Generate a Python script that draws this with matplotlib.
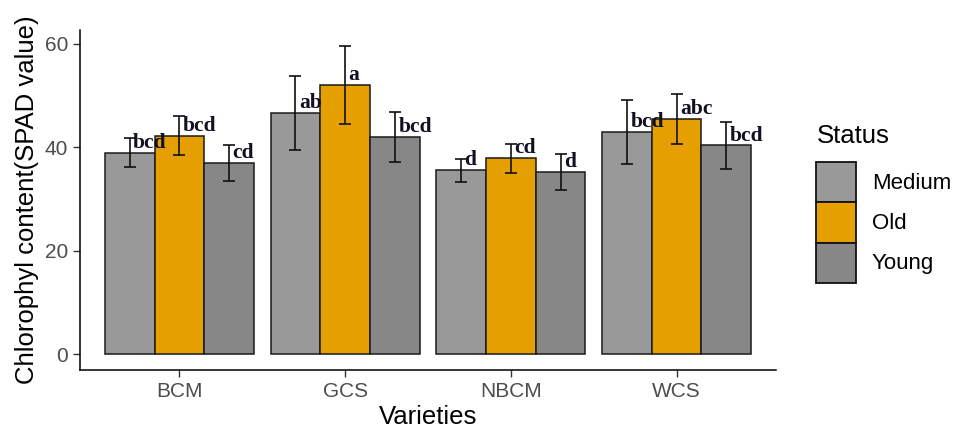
import matplotlib
matplotlib.use("Agg")
import matplotlib.pyplot as plt
import numpy as np
from matplotlib.patches import Patch

varieties = ["BCM", "GCS", "NBCM", "WCS"]
statuses = ["Medium", "Old", "Young"]
colors = ["#999999", "#E69F00", "#878787"]

medium_mean = [39.0, 46.7, 35.6, 43.0]
old_mean = [42.3, 52.1, 37.9, 45.5]
young_mean = [37.0, 42.0, 35.3, 40.4]

medium_sd = [2.8, 7.2, 2.2, 6.2]
old_sd = [3.8, 7.6, 2.85, 4.85]
young_sd = [3.4, 4.9, 3.5, 4.5]

medium_lab = ["bcd", "ab", "d", "bcd"]
old_lab = ["bcd", "a", "cd", "abc"]
young_lab = ["cd", "bcd", "d", "bcd"]

means = [medium_mean, old_mean, young_mean]
sds = [medium_sd, old_sd, young_sd]
labs = [medium_lab, old_lab, young_lab]

plt.rcParams['font.family'] = ['Liberation Sans', 'DejaVu Sans']

fig = plt.figure(figsize=(9.55, 4.30), dpi=100)
ax = fig.add_axes([80/955, 1-370/430, (776-80)/955, (370-30)/430])

x = np.arange(1, len(varieties)+1)
w = 0.3
offs = [-w, 0, w]
for i, st in enumerate(statuses):
    xs = x + offs[i]
    ax.bar(xs, means[i], width=w, color=colors[i], edgecolor="#1a1a1a",
           linewidth=1.1, zorder=2)
    ax.errorbar(xs, means[i], yerr=sds[i], fmt='none', ecolor="#111111",
                elinewidth=1.2, capsize=4.2, capthick=1.2, zorder=3)
    for xx, m, lab in zip(xs, means[i], labs[i]):
        ax.annotate(lab, (xx, m), xytext=(2.5, 3.5), textcoords='offset points',
                    ha='left', va='baseline', fontsize=15.5, fontweight='bold',
                    family=['Liberation Serif', 'DejaVu Serif'], color="#111122",
                    zorder=4)

ax.set_xlim(0.4, 4.6)
ax.set_ylim(-3.0, 62.7)
ax.set_xticks(x)
ax.set_xticklabels(varieties)
ax.set_yticks([0, 20, 40, 60])
for s in ["top", "right"]:
    ax.spines[s].set_visible(False)
for s in ["left", "bottom"]:
    ax.spines[s].set_linewidth(1.1)
    ax.spines[s].set_color("#000000")
ax.tick_params(axis='both', length=5, width=1.0, color="#333333",
               labelcolor="#4D4D4D", labelsize=15, pad=3.5)
ax.set_xlabel("Varieties", fontsize=18.5, color="#000000", labelpad=3)
ax.set_ylabel("Chlorophyl content(SPAD value)", fontsize=18.5, color="#000000", labelpad=4)

handles = [Patch(facecolor=c, edgecolor="#111111", linewidth=1.3) for c in colors]
leg = fig.legend(handles, statuses, loc='upper left', bbox_to_anchor=(812/955, 1-120/430),
                 frameon=False, fontsize=16, title="Status", title_fontsize=18.5,
                 handlelength=1.8, handleheight=2.4, labelspacing=0.0,
                 handletextpad=0.7, borderaxespad=0, borderpad=0.2)
leg._legend_box.align = "left"
leg._legend_box.sep = 10

fig.savefig("out.png", dpi=100)
